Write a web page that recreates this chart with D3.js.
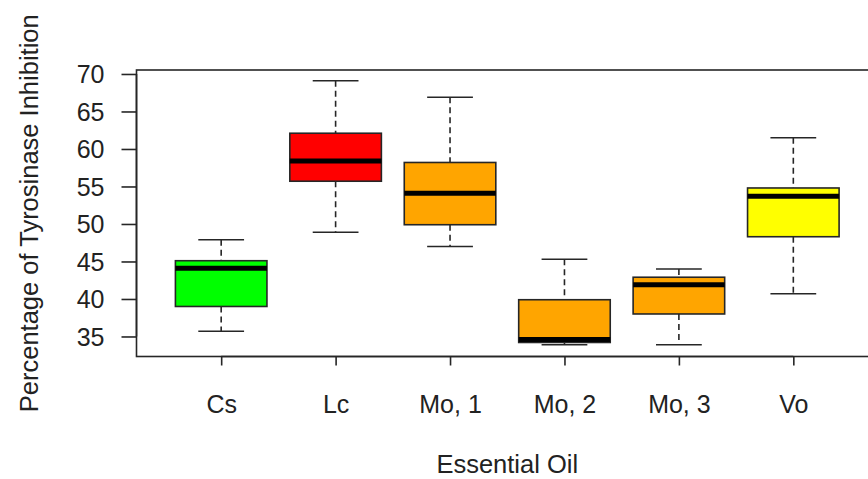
<!DOCTYPE html>
<html>
<head>
<meta charset="utf-8">
<script src="https://cdn.jsdelivr.net/npm/d3@7"></script>
<style>
  html, body { margin: 0; padding: 0; background: #fff; }
  svg { display: block; font-family: "Liberation Sans", Arial, sans-serif; }
</style>
</head>
<body>
<svg id="chart" width="868" height="479"></svg>
<script>
// Tyrosinase inhibition by essential oil: five-number summaries
const categories = ["Cs", "Lc", "Mo, 1", "Mo, 2", "Mo, 3", "Vo"];
const whiskerLow  = [35.7, 48.9, 47.0, 33.9, 33.9, 40.7];
const q1          = [39.0, 55.7, 49.9, 34.2, 38.0, 48.3];
const medians     = [44.1, 58.4, 54.1, 34.6, 41.9, 53.7];
const q3          = [45.1, 62.1, 58.2, 39.9, 42.9, 54.8];
const whiskerHigh = [47.9, 69.1, 66.9, 45.3, 44.0, 61.5];
const fills       = ["#00ff00", "#ff0000", "#ffa500", "#ffa500", "#ffa500", "#ffff00"];
const yTicks      = [35, 40, 45, 50, 55, 60, 65, 70];

const rows = categories.map((c, i) => ({
  name: c, pos: i + 1,
  lo: whiskerLow[i], q1: q1[i], med: medians[i], q3: q3[i], hi: whiskerHigh[i],
  fill: fills[i]
}));

const svg = d3.select("#chart");
const ink = "#262626";
const textInk = "#222";
const labelSize = "25px";

// plot region (right side runs past the window edge)
const plotL = 136.5, plotR = 878, plotT = 70, plotB = 356.5;

// x: positions 1..n with 4% padding around [0.5, n + 0.5]
const n = categories.length;
const x = d3.scaleLinear()
  .domain([0.5 - 0.04 * n, n + 0.5 + 0.04 * n])
  .range([plotL, plotR]);

const y = d3.scaleLinear()
  .domain([32.33, 70.53])
  .range([plotB, plotT]);

// frame
svg.append("rect")
  .attr("x", plotL).attr("y", plotT)
  .attr("width", plotR - plotL).attr("height", plotB - plotT)
  .attr("fill", "none").attr("stroke", ink).attr("stroke-width", 1.6);

// y axis
const yAxis = svg.append("g")
  .attr("transform", `translate(${plotL},0)`)
  .call(d3.axisLeft(y).tickValues(yTicks).tickSize(15).tickPadding(17).tickFormat(d3.format("d")));
yAxis.select(".domain").attr("stroke", ink).attr("stroke-width", 1.6)
  .attr("d", `M0,${y(35)}V${y(70)}`);
yAxis.selectAll(".tick line").attr("stroke", ink).attr("stroke-width", 1.6);
yAxis.selectAll(".tick text").attr("fill", textInk).style("font-size", labelSize)
  .attr("dy", "0.36em");

// x axis
const xAxis = svg.append("g")
  .attr("transform", `translate(0,${plotB})`)
  .call(d3.axisBottom(x).tickValues(rows.map(r => r.pos)).tickSize(9)
    .tickFormat((d, i) => categories[i]));
xAxis.select(".domain").attr("stroke", ink).attr("stroke-width", 1.6)
  .attr("d", `M${x(1)},0H${x(n)}`);
xAxis.selectAll(".tick line").attr("stroke", ink).attr("stroke-width", 1.6);
xAxis.selectAll(".tick text").attr("fill", textInk).style("font-size", labelSize)
  .attr("y", 56.5).attr("dy", 0);

// axis titles
svg.append("text")
  .attr("x", (plotL + plotR) / 2).attr("y", 473)
  .attr("text-anchor", "middle")
  .attr("fill", textInk).style("font-size", "25.5px")
  .text("Essential Oil");

svg.append("text")
  .attr("transform", `translate(38,${(plotT + plotB) / 2}) rotate(-90)`)
  .attr("text-anchor", "middle")
  .attr("fill", textInk).style("font-size", "25.5px")
  .text("Percentage of Tyrosinase Inhibition");

// boxes
const boxHalf = 0.4, capHalf = 0.2;
const g = svg.append("g");
const box = g.selectAll("g.box").data(rows).join("g").attr("class", "box");

// dashed whiskers
box.append("line")
  .attr("x1", d => x(d.pos)).attr("x2", d => x(d.pos))
  .attr("y1", d => y(d.hi)).attr("y2", d => y(d.q3))
  .attr("stroke", ink).attr("stroke-width", 1.6).attr("stroke-dasharray", "6,4");
box.append("line")
  .attr("x1", d => x(d.pos)).attr("x2", d => x(d.pos))
  .attr("y1", d => y(d.q1)).attr("y2", d => y(d.lo))
  .attr("stroke", ink).attr("stroke-width", 1.6).attr("stroke-dasharray", "6,4");

// whisker caps
["hi", "lo"].forEach(k => {
  box.append("line")
    .attr("x1", d => x(d.pos - capHalf)).attr("x2", d => x(d.pos + capHalf))
    .attr("y1", d => y(d[k])).attr("y2", d => y(d[k]))
    .attr("stroke", ink).attr("stroke-width", 1.6);
});

// IQR box
box.append("rect")
  .attr("x", d => x(d.pos - boxHalf))
  .attr("width", d => x(d.pos + boxHalf) - x(d.pos - boxHalf))
  .attr("y", d => y(d.q3))
  .attr("height", d => y(d.q1) - y(d.q3))
  .attr("fill", d => d.fill)
  .attr("stroke", ink).attr("stroke-width", 1.6);

// median
box.append("line")
  .attr("x1", d => x(d.pos - boxHalf)).attr("x2", d => x(d.pos + boxHalf))
  .attr("y1", d => y(d.med)).attr("y2", d => y(d.med))
  .attr("stroke", "#000").attr("stroke-width", 5);
</script>
</body>
</html>
